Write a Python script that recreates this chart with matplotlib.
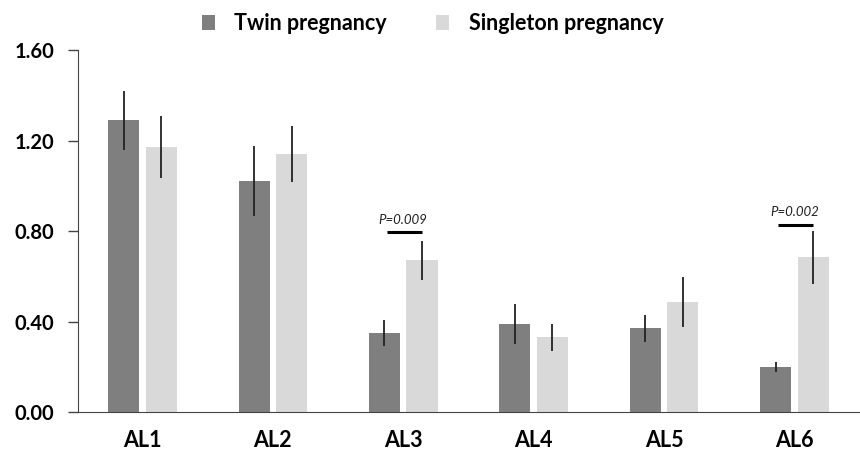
import matplotlib
matplotlib.use("Agg")
import matplotlib.pyplot as plt
import numpy as np

plt.rcParams["font.family"] = ["Lato", "DejaVu Sans"]

# Data
categories = ["AL1", "AL2", "AL3", "AL4", "AL5", "AL6"]
twin_mean = [1.29, 1.02, 0.35, 0.39, 0.37, 0.20]
twin_err = [0.13, 0.155, 0.058, 0.089, 0.06, 0.022]
single_mean = [1.17, 1.14, 0.67, 0.33, 0.485, 0.685]
single_err = [0.137, 0.125, 0.085, 0.06, 0.11, 0.117]
series_names = ["Twin pregnancy", "Singleton pregnancy"]
y_ticks = [0.0, 0.4, 0.8, 1.2, 1.6]

# Significance annotations: (category index, p-value text, bracket height)
sig_idx = [2, 5]
sig_text = ["P=0.009", "P=0.002"]
sig_height = [0.796, 0.828]

TWIN_COLOR = "#7f7f7f"
SINGLE_COLOR = "#d9d9d9"

fig = plt.figure(figsize=(8.6, 4.53), dpi=100)
ax = fig.add_axes([0.0907, 0.0905, 0.9093, 0.799])

x = np.arange(len(categories))
w = 0.238
off = 0.144

err_kw = dict(ecolor="#222222", elinewidth=1.3, capsize=0)
ax.bar(x - off, twin_mean, w, yerr=twin_err, color=TWIN_COLOR,
       label=series_names[0], error_kw=err_kw, zorder=2)
ax.bar(x + off, single_mean, w, yerr=single_err, color=SINGLE_COLOR,
       label=series_names[1], error_kw=err_kw, zorder=2)

for i, txt, h in zip(sig_idx, sig_text, sig_height):
    ax.plot([i - off + 0.02, i + off], [h, h], color="black", lw=2.2,
            solid_capstyle="butt")
    ax.text(i, h + 0.028, txt, ha="center", va="bottom", fontsize=9.5,
            style="italic", color="#222222")

ax.set_xlim(-0.494, 5.503)
ax.set_ylim(0, 1.6)
ax.set_yticks(y_ticks)
ax.set_yticklabels([f"{v:.2f}" for v in y_ticks], fontsize=14.5,
                   fontweight="bold")
ax.set_xticks(x)
ax.set_xticklabels(categories, fontsize=15.5, fontweight="bold")
ax.tick_params(axis="x", length=0, pad=13)
ax.tick_params(axis="y", direction="out", length=7, width=1,
               color="#444444", pad=10)

for s in ("top", "right"):
    ax.spines[s].set_visible(False)
ax.spines["left"].set_color("#444444")
ax.spines["bottom"].set_color("#444444")

fig.legend(loc="center", bbox_to_anchor=(0.503, 0.948), ncol=2, frameon=False,
           handlelength=0.6, handleheight=0.75, columnspacing=2.3,
           handletextpad=0.9, prop={"size": 15.5, "weight": "bold"})

fig.savefig("out.png", dpi=100)
plt.close(fig)
